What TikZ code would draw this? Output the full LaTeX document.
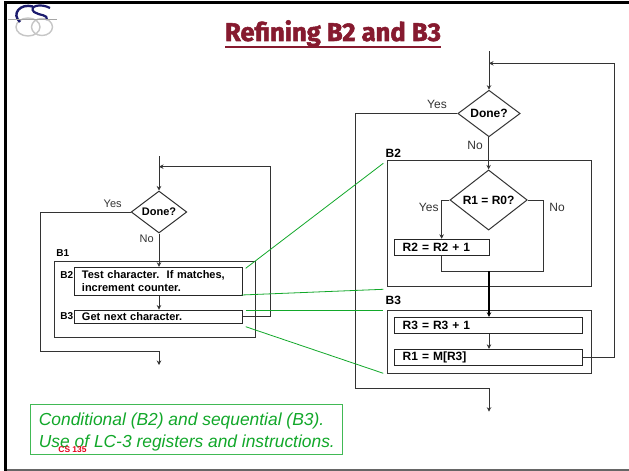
\documentclass[tikz,border=0pt]{standalone}
\usepackage{fontspec}
\setmainfont{Liberation Sans}
\newfontfamily\titlefont[BoldFeatures={FakeBold=2}]{Fira Sans}
\usetikzlibrary{arrows.meta,shapes.geometric}
\definecolor{titlered}{HTML}{861A2F}
\definecolor{notegreen}{HTML}{12A82A}
\definecolor{flowgray}{HTML}{333333}
\definecolor{logoblue}{HTML}{1C1C6E}
\tikzset{
	flowline/.style={draw=flowgray, line width=1pt},
	flowarrow/.style={flowline, -{Stealth[length=4.5pt,width=4.5pt]}},
	linkline/.style={draw=notegreen, line width=0.8pt},
	decision/.style={diamond, draw=flowgray, line width=1pt, inner sep=0pt, font=\fontsize{11}{12}\bfseries},
	bigdecision/.style={decision, font=\fontsize{12}{13}\bfseries},
	stepbox/.style={rectangle, draw=black!85, line width=1pt, inner xsep=7pt, inner ysep=0pt, align=left, font=\fontsize{11}{13}\bfseries},
	bigstep/.style={stepbox, inner xsep=8.4pt, font=\fontsize{12}{14}\bfseries},
	groupbox/.style={rectangle, draw=flowgray, line width=1pt, inner sep=0pt},
	boxlabel/.style={inner sep=0pt, font=\fontsize{10}{11}\bfseries},
	bigboxlabel/.style={boxlabel, font=\fontsize{12}{13}\bfseries},
	branchlabel/.style={inner sep=0pt, text=flowgray, font=\fontsize{11}{12}\selectfont},
	bigbranchlabel/.style={branchlabel, font=\fontsize{12}{13}\selectfont}
}
\begin{document}
\begin{tikzpicture}[x=1pt, y=-1pt]
	\useasboundingbox (0,0) rectangle (629,471);
	% frame
	\fill[white] (0,0) rectangle (629,471);
	\draw[gray!80!black, line width=1.2pt] (5,470) -- (629,470);
	\draw[black, line width=3pt] (5.5,471) -- (5.5,2) -- (629,2);
	% logo
	\draw[gray!45, line width=1.4pt] (28,27) ellipse (12 and 9);
	\draw[gray!45, line width=1.4pt] (42,27) ellipse (10.5 and 8.5);
	\draw[logoblue, line width=2.4pt] (33,6.5) .. controls (20,3) and (11,14) .. (20,22);
	\draw[logoblue, line width=2.2pt] (50,8) .. controls (41,3) and (28,6) .. (34,12) .. controls (40,16) and (48,14) .. (47,20);
	\draw[gray!70, line width=1pt] (8,19.5) -- (57,19.5);
	% title
	\node[inner sep=0pt, anchor=base, text=titlered] (title) at (333,41) {\resizebox{216pt}{!}{\titlefont\bfseries\fontsize{25}{28}\selectfont Refining B2 and B3}};
	\draw[titlered, line width=2pt] (225,47) -- (441,47);

	% left flow
	\node[decision, minimum width=55.7pt, minimum height=41pt] (done1) at (159,212) {Done?};
	\node[groupbox, minimum width=201.7pt, minimum height=76.3pt] (b1) at (155.1,299.2) {};
	\node[stepbox, text width=153.3pt, minimum height=28.4pt] (test) at (158.6,281.5) {Test character.\ \ If matches,\\increment counter.};
	\node[stepbox, text width=153.3pt, minimum height=13.3pt] (next) at (158.6,316.7) {Get next character.};
	\node[boxlabel] (b1lab) at (62.7,253) {B1};
	\node[boxlabel] (b2lab) at (66.7,275) {B2};
	\node[boxlabel] (b3lab) at (66.7,316) {B3};
	\node[branchlabel] (yes1) at (112.7,204) {Yes};
	\node[branchlabel] (no1) at (146.7,239) {No};
	\coordinate (in1) at (159,156);
	\coordinate (loop1) at (159,166.7);
	\coordinate (out1) at (159,365);
	\draw[flowarrow] (in1) -- (done1.north);
	\draw[flowarrow] (done1.south) -- (test.north -| done1.south);
	\draw[flowarrow] (test.south -| in1) -- (next.north -| in1);
	\draw[flowarrow] (next.east) -- (270,316.7) -- (270,166.7) -- (loop1);
	\draw[flowarrow] (done1.west) -- (40.7,212) -- (40.7,351.7) -- (159,351.7) -- (out1);

	% right flow
	\node[bigdecision, minimum width=62.3pt, minimum height=46.6pt] (done2) at (489,113.5) {Done?};
	\node[groupbox, minimum width=204pt, minimum height=125.6pt] (b2) at (489,223.5) {};
	\node[bigdecision, minimum width=77.3pt, minimum height=48pt] (same) at (488.6,200) {R1 = R0?};
	\node[bigstep, text width=77.9pt, minimum height=16pt] (addtwo) at (441.65,247.3) {R2 = R2 + 1};
	\node[groupbox, minimum width=204pt, minimum height=62.7pt] (b3) at (489,341.7) {};
	\node[bigstep, text width=171.6pt, minimum height=16pt] (addthree) at (488.5,325.3) {R3 = R3 + 1};
	\node[bigstep, text width=171.6pt, minimum height=15.7pt] (load) at (488.5,357.2) {R1 = M[R3]};
	\node[bigboxlabel] (b2head) at (393.3,153.3) {B2};
	\node[bigboxlabel] (b3head) at (393.3,300.7) {B3};
	\node[bigbranchlabel] (yes2) at (437,104.7) {Yes};
	\node[bigbranchlabel] (no2) at (475,145) {No};
	\node[bigbranchlabel] (yes3) at (428.7,207.7) {Yes};
	\node[bigbranchlabel] (no3) at (557,207.7) {No};
	\coordinate (in2) at (489,51);
	\coordinate (loop2) at (489,63.3);
	\coordinate (merge) at (489,271);
	\coordinate (out2) at (489,411.7);
	\draw[flowarrow] (in2) -- (done2.north);
	\draw[flowarrow] (done2.south -| same.north) -- (same.north);
	\draw[flowarrow] (same.west) -- (addtwo.north |- same.west) -- (addtwo.north);
	\draw[flowline] (same.east) -- (543.3,200) -- (543.3,271) -- (addtwo.south |- merge) -- (addtwo.south);
	\draw[flowarrow, draw=black, line width=1.2pt] (merge) -- (merge |- addthree.north);
	\draw[flowarrow] (addthree.south -| merge) -- (load.north -| merge);
	\draw[flowarrow] (load.east) -- (614.3,357.2) -- (614.3,63.3) -- (loop2);
	\draw[flowarrow] (done2.west) -- (355.7,113.5) -- (355.7,388.3) -- (489,388.3) -- (out2);

	% green links
	\coordinate (l1a) at (245.7,268.3);
	\coordinate (l1b) at (383.3,163.3);
	\coordinate (l2a) at (241.5,295);
	\coordinate (l2b) at (383.3,289.3);
	\coordinate (l3a) at (245.7,310.3);
	\coordinate (l3b) at (383.3,310.3);
	\coordinate (l4a) at (245.7,326.7);
	\coordinate (l4b) at (383.3,373.3);
	\draw[linkline] (l1a) -- (l1b);
	\draw[linkline] (l2a) -- (l2b);
	\draw[linkline] (l3a) -- (l3b);
	\draw[linkline] (l4a) -- (l4b);

	% note
	\node[rectangle, draw=notegreen!80, line width=1pt, fill=white, text=notegreen, minimum width=311.7pt, minimum height=49.3pt, inner sep=0pt] (note) at (186.2,429.4) {};
	\node[inner sep=0pt, anchor=base west, text=notegreen, font=\fontsize{17.4}{20}\itshape] (line1) at (38.7,425.5) {Conditional (B2) and sequential (B3).};
	\node[inner sep=0pt, anchor=base west, text=notegreen, font=\fontsize{17.4}{20}\itshape] (line2) at (38.7,447) {Use of LC-3 registers and instructions.};
	\node[inner sep=0pt, text=red!90!blue, font=\fontsize{8.4}{9}\bfseries] (course) at (72.5,450) {CS 135};
\end{tikzpicture}
\end{document}
